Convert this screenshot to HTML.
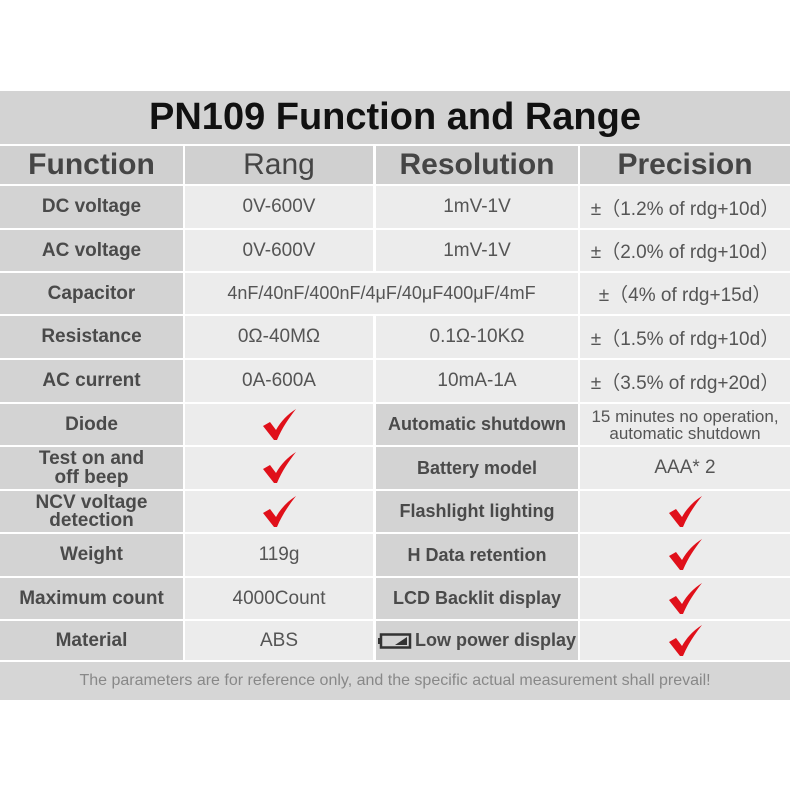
<!DOCTYPE html><html><head><style>
body{margin:0;width:790px;height:790px;background:#fff;position:relative;overflow:hidden;font-family:"Liberation Sans",sans-serif}
.c{position:absolute;display:flex;align-items:center;justify-content:center;text-align:center;color:#444;box-sizing:border-box}
.g{background:#d3d3d3;font-weight:bold;font-size:19px;color:#4a4a4a}
.l{background:#ececec;font-size:19px;color:#555}
.h{background:#d0d0d0;font-weight:bold;font-size:30px;color:#454545}
</style></head><body>
<div class="c" style="left:0;top:91px;width:790px;height:53px;background:#d3d3d3;font-weight:bold;font-size:38px;color:#111">PN109 Function and Range</div>
<div class="c h" style="left:0;top:146px;width:183px;height:38px">Function</div>
<div class="c h" style="left:185px;top:146px;width:188px;height:38px;font-weight:normal">Rang</div>
<div class="c h" style="left:376px;top:146px;width:202px;height:38px">Resolution</div>
<div class="c h" style="left:580px;top:146px;width:210px;height:38px">Precision</div>

<div class="c g" style="left:0;top:186px;width:183px;height:42px">DC voltage</div>
<div class="c l" style="left:185px;top:186px;width:188px;height:42px">0V-600V</div>
<div class="c l" style="left:376px;top:186px;width:202px;height:42px">1mV-1V</div>
<div class="c l" style="left:580px;top:186px;width:210px;height:42px">±（1.2% of rdg+10d）</div>

<div class="c g" style="left:0;top:230px;width:183px;height:41px">AC voltage</div>
<div class="c l" style="left:185px;top:230px;width:188px;height:41px">0V-600V</div>
<div class="c l" style="left:376px;top:230px;width:202px;height:41px">1mV-1V</div>
<div class="c l" style="left:580px;top:230px;width:210px;height:41px">±（2.0% of rdg+10d）</div>

<div class="c g" style="left:0;top:273px;width:183px;height:41px">Capacitor</div>
<div class="c l" style="left:185px;top:273px;width:393px;height:41px;font-size:18px">4nF/40nF/400nF/4μF/40μF400μF/4mF</div>
<div class="c l" style="left:580px;top:273px;width:210px;height:41px">±（4% of rdg+15d）</div>

<div class="c g" style="left:0;top:316px;width:183px;height:42px">Resistance</div>
<div class="c l" style="left:185px;top:316px;width:188px;height:42px">0Ω-40MΩ</div>
<div class="c l" style="left:376px;top:316px;width:202px;height:42px">0.1Ω-10KΩ</div>
<div class="c l" style="left:580px;top:316px;width:210px;height:42px">±（1.5% of rdg+10d）</div>

<div class="c g" style="left:0;top:360px;width:183px;height:42px">AC current</div>
<div class="c l" style="left:185px;top:360px;width:188px;height:42px">0A-600A</div>
<div class="c l" style="left:376px;top:360px;width:202px;height:42px">10mA-1A</div>
<div class="c l" style="left:580px;top:360px;width:210px;height:42px">±（3.5% of rdg+20d）</div>

<div class="c g" style="left:0;top:404px;width:183px;height:41px">Diode</div>
<div class="c l" style="left:185px;top:404px;width:188px;height:41px"><svg width="36" height="32"><path d="M2 17 L9 13 L15 21 C20 12 27 5 35 0 C28 9 21 19 16 31 L13 31 Z" fill="#e0101a"/></svg></div>
<div class="c g" style="left:376px;top:404px;width:202px;height:41px;font-size:18px">Automatic shutdown</div>
<div class="c l" style="left:580px;top:404px;width:210px;height:41px;font-size:17px;line-height:17px">15 minutes no operation,<br>automatic shutdown</div>

<div class="c g" style="left:0;top:447px;width:183px;height:42px;line-height:19px">Test on and<br>off beep</div>
<div class="c l" style="left:185px;top:447px;width:188px;height:42px"><svg width="36" height="32"><path d="M2 17 L9 13 L15 21 C20 12 27 5 35 0 C28 9 21 19 16 31 L13 31 Z" fill="#e0101a"/></svg></div>
<div class="c g" style="left:376px;top:447px;width:202px;height:42px;font-size:18px">Battery model</div>
<div class="c l" style="left:580px;top:447px;width:210px;height:42px">AAA* 2</div>

<div class="c g" style="left:0;top:491px;width:183px;height:41px;line-height:18px">NCV voltage<br>detection</div>
<div class="c l" style="left:185px;top:491px;width:188px;height:41px"><svg width="36" height="32"><path d="M2 17 L9 13 L15 21 C20 12 27 5 35 0 C28 9 21 19 16 31 L13 31 Z" fill="#e0101a"/></svg></div>
<div class="c g" style="left:376px;top:491px;width:202px;height:41px;font-size:18px">Flashlight lighting</div>
<div class="c l" style="left:580px;top:491px;width:210px;height:41px"><svg width="36" height="32"><path d="M2 17 L9 13 L15 21 C20 12 27 5 35 0 C28 9 21 19 16 31 L13 31 Z" fill="#e0101a"/></svg></div>

<div class="c g" style="left:0;top:534px;width:183px;height:42px">Weight</div>
<div class="c l" style="left:185px;top:534px;width:188px;height:42px">119g</div>
<div class="c g" style="left:376px;top:534px;width:202px;height:42px;font-size:18px">H Data retention</div>
<div class="c l" style="left:580px;top:534px;width:210px;height:42px"><svg width="36" height="32"><path d="M2 17 L9 13 L15 21 C20 12 27 5 35 0 C28 9 21 19 16 31 L13 31 Z" fill="#e0101a"/></svg></div>

<div class="c g" style="left:0;top:578px;width:183px;height:41px">Maximum count</div>
<div class="c l" style="left:185px;top:578px;width:188px;height:41px">4000Count</div>
<div class="c g" style="left:376px;top:578px;width:202px;height:41px;font-size:18px">LCD Backlit display</div>
<div class="c l" style="left:580px;top:578px;width:210px;height:41px"><svg width="36" height="32"><path d="M2 17 L9 13 L15 21 C20 12 27 5 35 0 C28 9 21 19 16 31 L13 31 Z" fill="#e0101a"/></svg></div>

<div class="c g" style="left:0;top:621px;width:183px;height:39px">Material</div>
<div class="c l" style="left:185px;top:621px;width:188px;height:39px">ABS</div>
<div class="c g" style="left:376px;top:621px;width:202px;height:39px;font-size:18px"><svg width="34" height="16" style="margin-right:3px"><rect x="3" y="1.5" width="29" height="13" fill="none" stroke="#333" stroke-width="2.5"/><rect x="0" y="5" width="3" height="6" fill="#333"/><path d="M17 12 L29 4 L29 12 Z" fill="#333"/></svg>Low power display</div>
<div class="c l" style="left:580px;top:621px;width:210px;height:39px"><svg width="36" height="32"><path d="M2 17 L9 13 L15 21 C20 12 27 5 35 0 C28 9 21 19 16 31 L13 31 Z" fill="#e0101a"/></svg></div>

<div class="c" style="left:0;top:662px;width:790px;height:38px;background:#d6d6d6;font-size:16px;color:#888">The parameters are for reference only, and the specific actual measurement shall prevail!</div>
</body></html>
